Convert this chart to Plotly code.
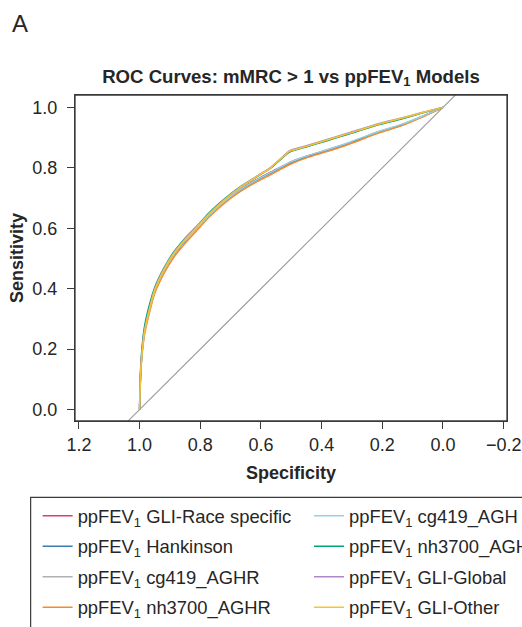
import plotly.graph_objects as go

# ---------------- data ----------------
specificity = [1.0, 0.999, 0.995, 0.985, 0.97, 0.95, 0.92, 0.89, 0.85, 0.81, 0.77, 0.72,
               0.67, 0.62, 0.57, 0.53, 0.505, 0.45, 0.385, 0.31, 0.21, 0.14, 0.07, 0.0]

sens_gli_race = [0, 0.05, 0.15, 0.25, 0.32, 0.395, 0.46, 0.51, 0.56, 0.602, 0.645, 0.69,
                 0.728, 0.758, 0.785, 0.805, 0.818, 0.838, 0.858, 0.882, 0.92, 0.941, 0.969, 1.0]
sens_hankinson = [0, 0.05, 0.15, 0.25, 0.32, 0.393, 0.458, 0.508, 0.558, 0.6, 0.643, 0.688,
                  0.725, 0.755, 0.781, 0.802, 0.815, 0.836, 0.856, 0.881, 0.919, 0.94, 0.969, 1.0]
sens_cg419_aghr = [0, 0.058, 0.158, 0.258, 0.328, 0.398, 0.463, 0.513, 0.563, 0.605, 0.648, 0.693,
                   0.733, 0.766, 0.798, 0.832, 0.853, 0.87, 0.89, 0.913, 0.944, 0.962, 0.981, 1.0]
sens_nh3700_aghr = [0, 0.045, 0.14, 0.24, 0.31, 0.385, 0.45, 0.5, 0.55, 0.594, 0.638, 0.683,
                    0.72, 0.75, 0.776, 0.798, 0.811, 0.833, 0.853, 0.878, 0.916, 0.938, 0.967, 1.0]
sens_cg419_agh = [0, 0.05, 0.15, 0.25, 0.32, 0.394, 0.459, 0.509, 0.559, 0.601, 0.644, 0.689,
                  0.727, 0.757, 0.783, 0.805, 0.818, 0.839, 0.859, 0.884, 0.921, 0.943, 0.97, 1.0]
sens_nh3700_agh = [0, 0.062, 0.165, 0.268, 0.338, 0.405, 0.468, 0.518, 0.567, 0.608, 0.652, 0.697,
                   0.736, 0.767, 0.798, 0.833, 0.853, 0.87, 0.889, 0.912, 0.943, 0.961, 0.981, 1.0]
sens_gli_global = [0, 0.055, 0.155, 0.255, 0.325, 0.4, 0.465, 0.515, 0.565, 0.607, 0.65, 0.695,
                   0.735, 0.768, 0.8, 0.835, 0.857, 0.873, 0.893, 0.916, 0.947, 0.964, 0.983, 1.0]
sens_gli_other = [0, 0.05, 0.15, 0.25, 0.322, 0.396, 0.462, 0.513, 0.563, 0.605, 0.648, 0.694,
                  0.734, 0.767, 0.799, 0.834, 0.855, 0.871, 0.891, 0.914, 0.945, 0.963, 0.982, 1.0]

series_names = ["ppFEV<sub>1</sub> GLI-Race specific", "ppFEV<sub>1</sub> Hankinson",
                "ppFEV<sub>1</sub> cg419_AGHR", "ppFEV<sub>1</sub> nh3700_AGHR",
                "ppFEV<sub>1</sub> cg419_AGH", "ppFEV<sub>1</sub> nh3700_AGH",
                "ppFEV<sub>1</sub> GLI-Global", "ppFEV<sub>1</sub> GLI-Other"]
series_values = [sens_gli_race, sens_hankinson, sens_cg419_aghr, sens_nh3700_aghr,
                 sens_cg419_agh, sens_nh3700_agh, sens_gli_global, sens_gli_other]
series_colors = ["#D2426F", "#3B7DAD", "#AEB2B2", "#F58A2C",
                 "#93D3E3", "#00A57A", "#B287C8", "#F5C431"]

ref_x = [1.3, -0.3]
ref_y = [-0.3, 1.3]

x_ticks = [1.2, 1.0, 0.8, 0.6, 0.4, 0.2, 0.0, -0.2]
x_ticklabels = ["1.2", "1.0", "0.8", "0.6", "0.4", "0.2", "0.0", "\u22120.2"]
y_ticks = [0.0, 0.2, 0.4, 0.6, 0.8, 1.0]
y_ticklabels = ["0.0", "0.2", "0.4", "0.6", "0.8", "1.0"]

FONT = "Liberation Sans, Arial, Helvetica, sans-serif"
TXT = "#262626"
EDGE = "#3a3a3a"

W, H = 522, 627

fig = go.Figure()

# chance diagonal
fig.add_trace(go.Scatter(x=ref_x, y=ref_y, mode="lines", showlegend=False,
                         line=dict(color="#9C9C9C", width=1.1), hoverinfo="skip"))

for i, (name, vals, col) in enumerate(zip(series_names, series_values, series_colors)):
    fig.add_trace(go.Scatter(
        x=specificity, y=vals, mode="lines", name=name,
        line=dict(color=col, width=1.5, shape="spline", smoothing=0.6),
        legend="legend" if i < 4 else "legend2",
        legendgroup=f"g{i}",
    ))

axis_common = dict(
    showline=True, linecolor=EDGE, linewidth=1.3, mirror=True,
    ticks="outside", ticklen=7, tickwidth=1.2, tickcolor=EDGE,
    showgrid=False, zeroline=False,
    tickfont=dict(family=FONT, size=18, color=TXT),
)

legend_common = dict(orientation="v", bgcolor="rgba(0,0,0,0)", borderwidth=0,
                     tracegroupgap=3.6,
                     font=dict(family=FONT, size=18.4, color=TXT))

fig.update_layout(
    width=W, height=H,
    margin=dict(l=75, r=15, t=95, b=206, autoexpand=False),
    paper_bgcolor="white", plot_bgcolor="white",
    font=dict(family=FONT, color=TXT),
    title=dict(text="<b>ROC Curves: mMRC > 1 vs ppFEV<sub>1</sub> Models</b>",
               x=0.5, xref="paper", xanchor="center",
               y=1 - 76 / H, yref="container", yanchor="middle",
               font=dict(family=FONT, size=18.6, color=TXT)),
    xaxis=dict(range=[1.213, -0.211], tickvals=x_ticks, ticktext=x_ticklabels,
               title=dict(text="<b>Specificity</b>", font=dict(family=FONT, size=18, color=TXT),
                          standoff=12),
               **axis_common),
    yaxis=dict(range=[-0.038, 1.041], tickvals=y_ticks, ticktext=y_ticklabels,
               ticklabelstandoff=6,
               title=dict(text="<b>Sensitivity</b>", font=dict(family=FONT, size=18, color=TXT),
                          standoff=3),
               **axis_common),
    legend=dict(x=-0.0865, xanchor="left", y=-0.2337, yanchor="top", **legend_common),
    legend2=dict(x=0.5417, xanchor="left", y=-0.2337, yanchor="top", **legend_common),
    shapes=[
        # plot frame
        dict(type="rect", xref="paper", yref="paper", x0=0, x1=1, y0=0, y1=1,
             line=dict(color=EDGE, width=1.3), fillcolor="rgba(0,0,0,0)", layer="above"),
        # legend frame
        dict(type="rect", xref="paper", yref="paper",
             x0=-0.1027, x1=1.3, y0=-0.2343, y1=-0.9,
             line=dict(color=EDGE, width=1.2), fillcolor="rgba(0,0,0,0)"),
    ],
    annotations=[dict(text="A", xref="paper", yref="paper", x=-0.1514, y=1.2195,
                      xanchor="left", yanchor="middle", showarrow=False,
                      font=dict(family=FONT, size=24, color=TXT))],
)

# remove the default page margin so the figure fills the window exactly
fig.write_html(
    "out.html",
    config={"displayModeBar": False},
    post_script="document.body.style.margin='0';document.body.style.overflow='hidden';"
                "document.documentElement.style.overflow='hidden';",
)
